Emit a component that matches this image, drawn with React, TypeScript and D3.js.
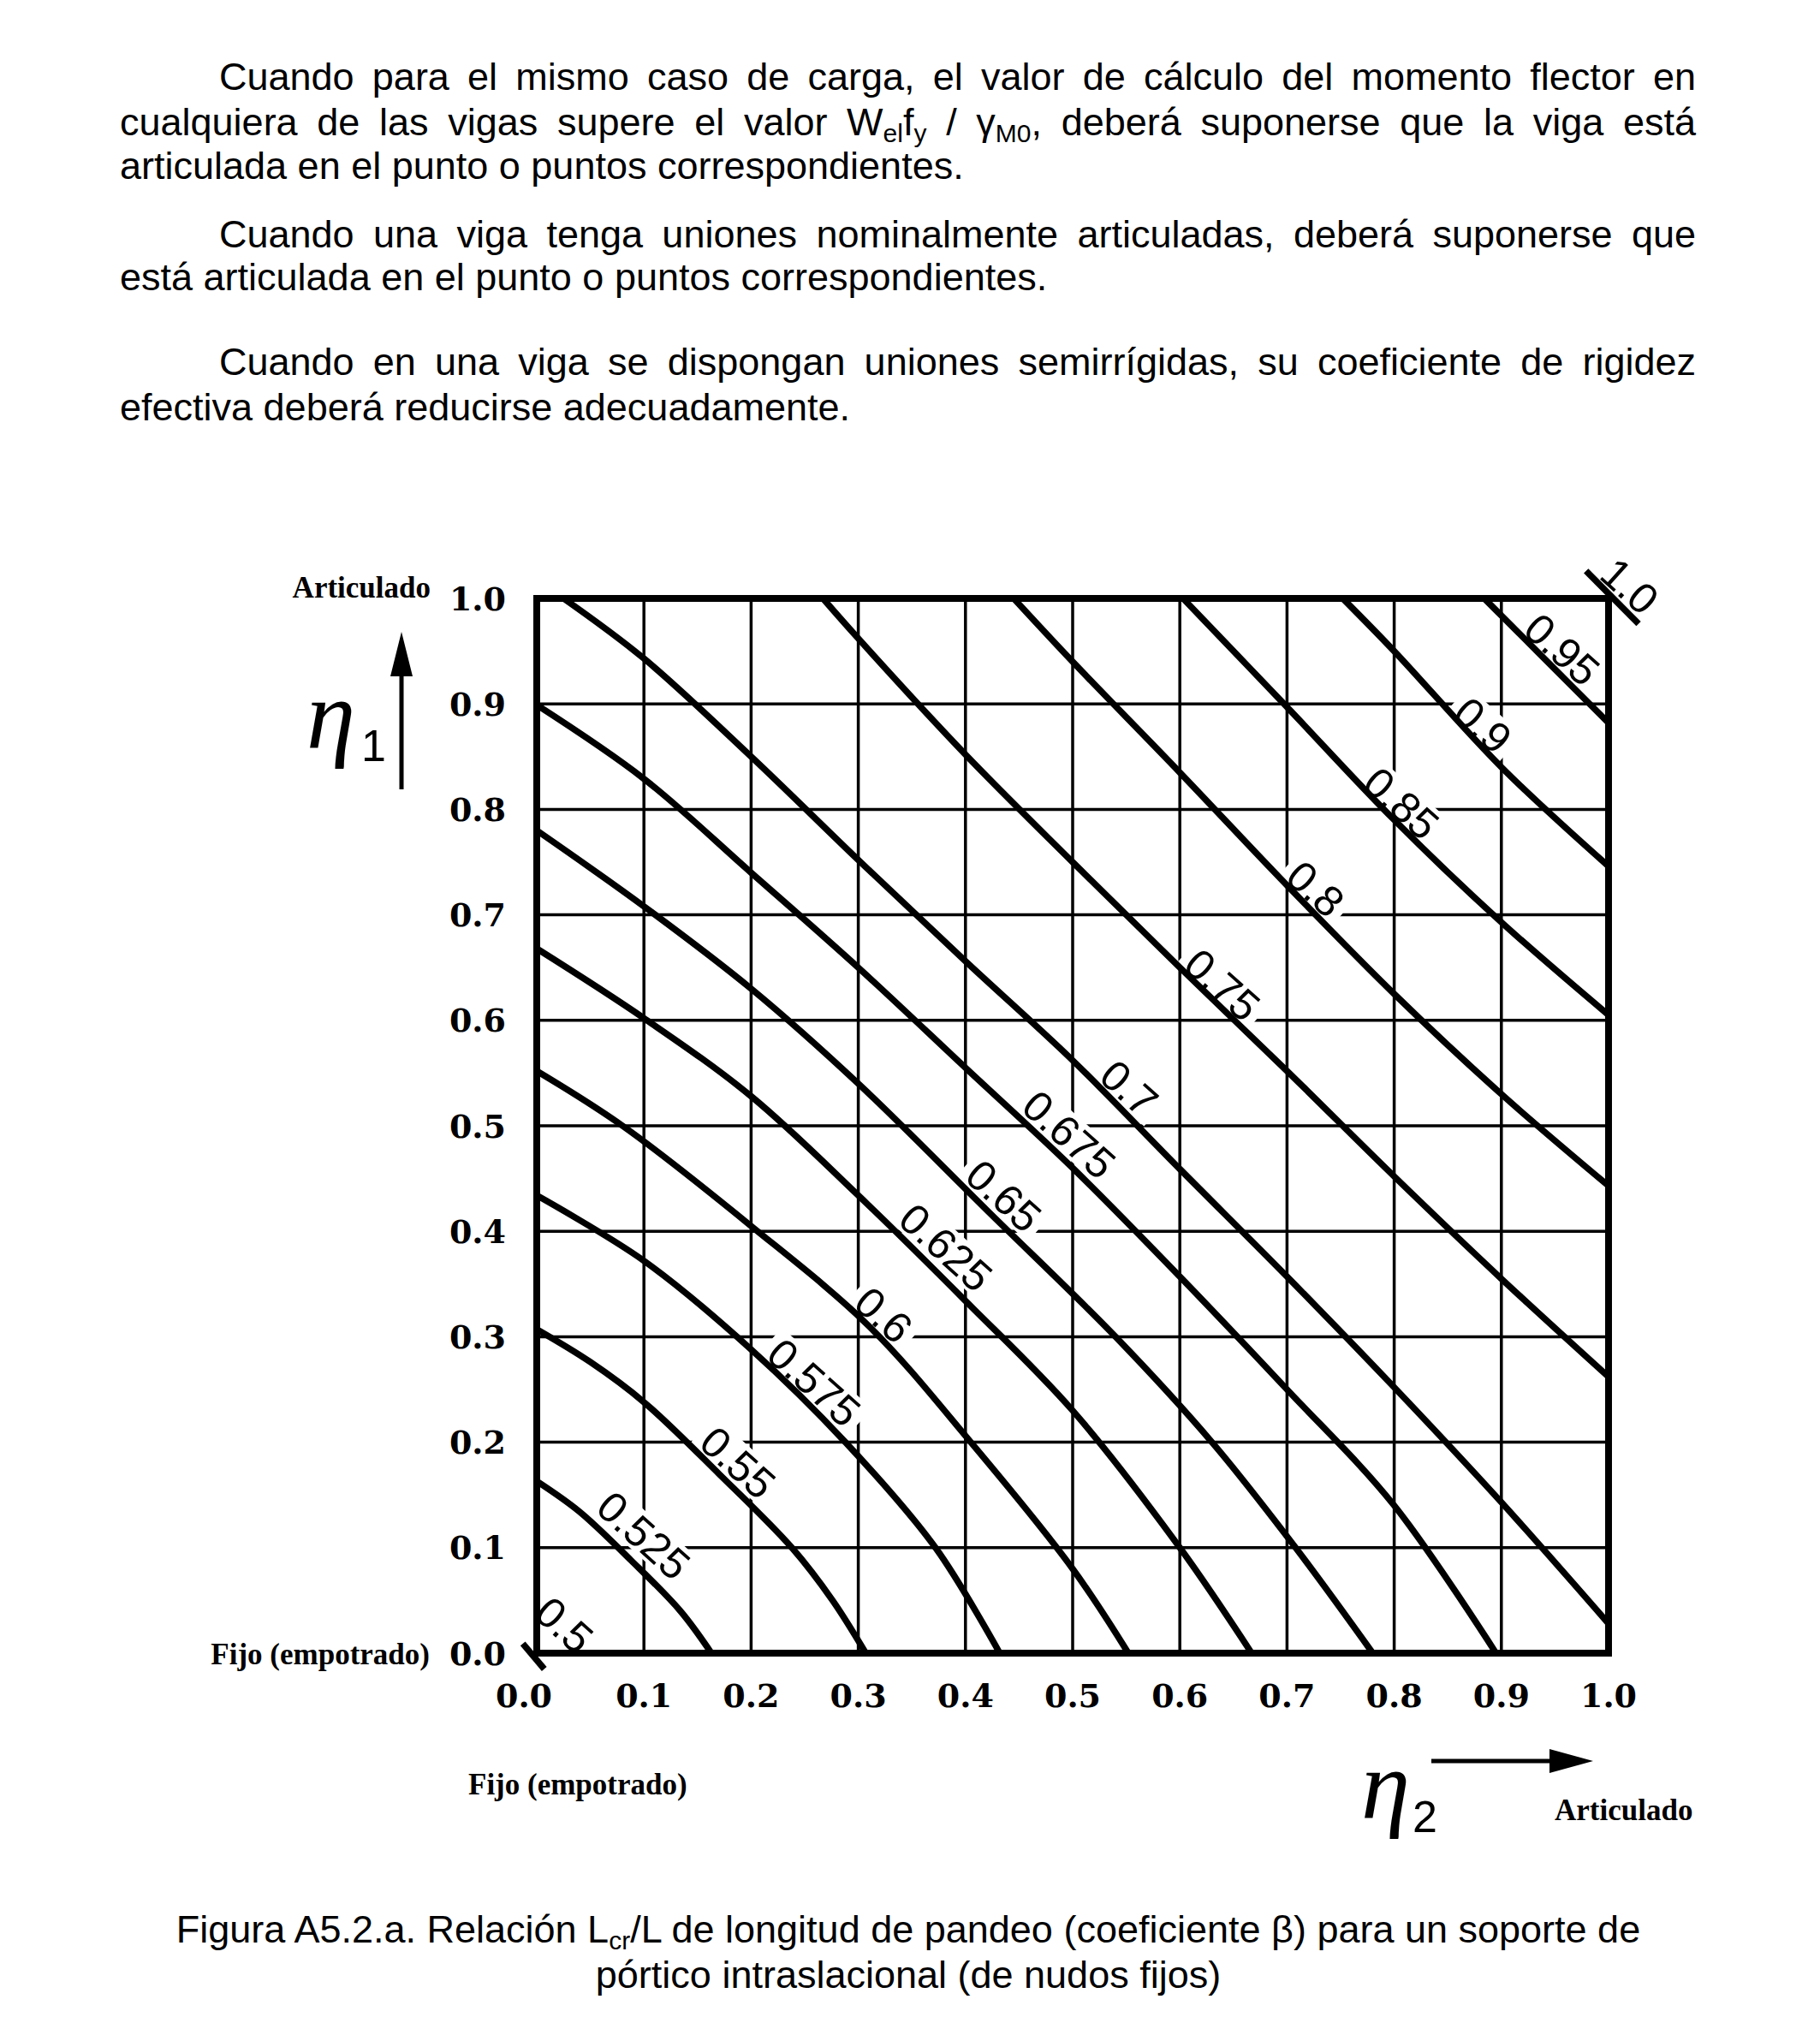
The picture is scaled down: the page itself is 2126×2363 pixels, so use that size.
import React, { useEffect, useRef } from 'react';
import * as d3 from 'd3';

type Pt = [number, number];

// ---------- data (eta2, eta1) ----------
const TICK_VALUES = [0, 0.1, 0.2, 0.3, 0.4, 0.5, 0.6, 0.7, 0.8, 0.9, 1.0];
const TICK_LABELS = ['0.0', '0.1', '0.2', '0.3', '0.4', '0.5', '0.6', '0.7', '0.8', '0.9', '1.0'];

const BETA_0500: Pt[] = [[-0.013, 0.009], [0.007, -0.015]];
const BETA_0525: Pt[] = [[0, 0.163], [0.04, 0.134], [0.088, 0.088], [0.134, 0.04], [0.163, 0]];
const BETA_0550: Pt[] = [[0, 0.307], [0.05, 0.276], [0.1, 0.238], [0.17, 0.17], [0.238, 0.1], [0.276, 0.05], [0.307, 0]];
const BETA_0575: Pt[] = [[0, 0.434], [0.1, 0.372], [0.2, 0.288], [0.288, 0.2], [0.372, 0.1], [0.432, 0]];
const BETA_0600: Pt[] = [[0, 0.552], [0.08, 0.5], [0.2, 0.405], [0.31, 0.31], [0.405, 0.2], [0.5, 0.08], [0.552, 0]];
const BETA_0625: Pt[] = [[0, 0.668], [0.1, 0.602], [0.2, 0.528], [0.3, 0.434], [0.4, 0.334], [0.5, 0.23], [0.6, 0.1], [0.667, 0]];
const BETA_0650: Pt[] = [[0, 0.78], [0.1, 0.708], [0.2, 0.63], [0.3, 0.54], [0.42, 0.42], [0.54, 0.3], [0.63, 0.2], [0.708, 0.1], [0.78, 0]];
const BETA_0675: Pt[] = [[0, 0.899], [0.1, 0.829], [0.2, 0.74], [0.3, 0.65], [0.4, 0.555], [0.5, 0.46], [0.6, 0.357], [0.7, 0.25], [0.8, 0.14], [0.895, 0]];
const BETA_0700: Pt[] = [[0.025, 1], [0.1, 0.943], [0.2, 0.85], [0.3, 0.752], [0.4, 0.656], [0.5, 0.562], [0.6, 0.459], [0.7, 0.357], [0.8, 0.252], [0.9, 0.143], [1, 0.028]];
const BETA_0750: Pt[] = [[0.267, 1], [0.3, 0.962], [0.4, 0.852], [0.5, 0.75], [0.6, 0.65], [0.7, 0.552], [0.8, 0.452], [0.9, 0.355], [1, 0.262]];
const BETA_0800: Pt[] = [[0.445, 1], [0.5, 0.94], [0.6, 0.835], [0.7, 0.728], [0.8, 0.625], [0.9, 0.53], [1, 0.443]];
const BETA_0850: Pt[] = [[0.603, 1], [0.7, 0.897], [0.8, 0.79], [0.9, 0.693], [1, 0.605]];
const BETA_0900: Pt[] = [[0.752, 1], [0.8, 0.95], [0.9, 0.84], [1, 0.746]];
const BETA_0950: Pt[] = [[0.884, 1], [1, 0.882]];
const BETA_1000: Pt[] = [[0.979, 1.026], [1.028, 0.976]];

const CURVES: Pt[][] = [
  BETA_0500, BETA_0525, BETA_0550, BETA_0575, BETA_0600, BETA_0625, BETA_0650,
  BETA_0675, BETA_0700, BETA_0750, BETA_0800, BETA_0850, BETA_0900, BETA_0950, BETA_1000,
];
const CURVE_LABELS = ['0.5', '0.525', '0.55', '0.575', '0.6', '0.625', '0.65', '0.675', '0.7', '0.75', '0.8', '0.85', '0.9', '0.95', '1.0'];
const LABEL_ANCHORS: Pt[] = [
  [0.026, 0.027], [0.1, 0.112], [0.188, 0.181], [0.259, 0.257], [0.324, 0.321],
  [0.382, 0.385], [0.436, 0.434], [0.497, 0.492], [0.553, 0.536], [0.64, 0.634],
  [0.727, 0.725], [0.807, 0.806], [0.883, 0.88], [0.957, 0.952], [1.02, 1.012],
];

// ---------- layout ----------
const W = 2126;
const H = 2363;
const PL = 627, PR = 1879, PT = 699, PB = 1931;
const BODY_FONT = '"Liberation Sans", Arial, sans-serif';
const SERIF_B = '"Liberation Serif", "Times New Roman", serif';
const TICK_FONT = '"DejaVu Serif", serif';
const LABEL_FS = 50;
const BODY_FS = 45;
const SUB_FS = 30;

const charW = (s: string) => s.split('').reduce((a, c) => a + (c === '.' ? 0.278 : 0.556), 0);

export default function App() {
  const svgRef = useRef<SVGSVGElement>(null);

  const x = d3.scaleLinear().domain([0, 1]).range([PL, PR]);
  const y = d3.scaleLinear().domain([0, 1]).range([PB, PT]);
  const line = d3.line<Pt>().x((d) => x(d[0])).y((d) => y(d[1])).curve(d3.curveCatmullRom.alpha(0.5));
  const grid = TICK_VALUES.slice(1, -1);

  useEffect(() => {
    const svg = d3.select(svgRef.current);
    svg.selectAll<SVGTextElement, unknown>('text[data-justify]').each(function () {
      const target = +(this.getAttribute('data-justify') || 0);
      const x0 = +(this.getAttribute('x') || 0);
      const natural = this.getComputedTextLength();
      const spaces = ((this.textContent || '').match(/ /g) || []).length;
      if (spaces > 0) this.style.wordSpacing = `${(target - x0 - natural) / spaces}px`;
    });
  }, []);

  const RIGHT = 1981;
  const IND = 256;
  const LEFT = 140;

  return (
    <svg ref={svgRef} width={W} height={H} style={{ position: 'absolute', left: 0, top: 0, background: '#fff' }}>
      <rect x={0} y={0} width={W} height={H} fill="#fff" />
      {/* body text */}
      <g fontFamily={BODY_FONT} fontSize={BODY_FS} fill="#000">
        <text x={IND} y={105} data-justify={RIGHT}>Cuando para el mismo caso de carga, el valor de cálculo del momento flector en</text>
        <text x={LEFT} y={158} data-justify={RIGHT}>
          {'cualquiera de las vigas supere el valor W'}
          <tspan fontSize={SUB_FS} dy={8}>el</tspan>
          <tspan dy={-8}>f</tspan>
          <tspan fontSize={SUB_FS} dy={8}>y</tspan>
          <tspan dy={-8}>{' / γ'}</tspan>
          <tspan fontSize={SUB_FS} dy={8}>M0</tspan>
          <tspan dy={-8}>{', deberá suponerse que la viga está'}</tspan>
        </text>
        <text x={LEFT} y={209}>articulada en el punto o puntos correspondientes.</text>
        <text x={IND} y={289} data-justify={RIGHT}>Cuando una viga tenga uniones nominalmente articuladas, deberá suponerse que</text>
        <text x={LEFT} y={339}>está articulada en el punto o puntos correspondientes.</text>
        <text x={IND} y={438} data-justify={RIGHT}>Cuando en una viga se dispongan uniones semirrígidas, su coeficiente de rigidez</text>
        <text x={LEFT} y={491}>efectiva deberá reducirse adecuadamente.</text>
      </g>

      {/* grid */}
      <g stroke="#000" strokeWidth={3.5}>
        {grid.map((v) => (
          <line key={'v' + v} x1={x(v)} x2={x(v)} y1={y(0)} y2={y(1)} />
        ))}
        {grid.map((v) => (
          <line key={'h' + v} x1={x(0)} x2={x(1)} y1={y(v)} y2={y(v)} />
        ))}
      </g>

      {/* label backgrounds */}
      <g fill="#fff">
        {CURVE_LABELS.map((lab, i) => {
          const w = charW(lab) * LABEL_FS;
          return (
            <g key={'bg' + lab} transform={`translate(${x(LABEL_ANCHORS[i][0])},${y(LABEL_ANCHORS[i][1])}) rotate(42)`}>
              <rect x={-w / 2 - 8} y={-LABEL_FS * 0.44} width={w + 16} height={LABEL_FS * 0.88} />
            </g>
          );
        })}
      </g>

      {/* curves */}
      <g fill="none" stroke="#000" strokeWidth={7.5}>
        {CURVES.map((c, i) => (
          <path key={'c' + i} d={line(c) || ''} />
        ))}
      </g>

      {/* curve labels */}
      <g fontFamily={BODY_FONT} fontSize={LABEL_FS} fill="#000" textAnchor="middle">
        {CURVE_LABELS.map((lab, i) => (
          <text key={'t' + lab} transform={`translate(${x(LABEL_ANCHORS[i][0])},${y(LABEL_ANCHORS[i][1])}) rotate(42)`} dy="0.36em">
            {lab}
          </text>
        ))}
      </g>

      {/* frame */}
      <rect x={PL} y={PT} width={PR - PL} height={PB - PT} fill="none" stroke="#000" strokeWidth={8} />

      {/* ticks */}
      <g fontFamily={TICK_FONT} fontWeight="bold" fontSize={38} fill="#000">
        {TICK_VALUES.map((v, i) => (
          <text key={'yt' + v} x={591} y={y(v)} dy="0.36em" textAnchor="end">{TICK_LABELS[i]}</text>
        ))}
        {TICK_VALUES.map((v, i) => (
          <text key={'xt' + v} x={x(v) - (i === 0 ? 15 : 0)} y={1994} textAnchor="middle">{TICK_LABELS[i]}</text>
        ))}
      </g>

      {/* axis words */}
      <g fontFamily={SERIF_B} fontWeight="bold" fontSize={35} fill="#000">
        <text x={503} y={698} textAnchor="end">Articulado</text>
        <text x={502} y={1944} textAnchor="end">Fijo (empotrado)</text>
        <text x={547} y={2096}>Fijo (empotrado)</text>
        <text x={1816} y={2126}>Articulado</text>
      </g>

      {/* eta symbols and arrows */}
      <g fill="#000">
        <text x={358} y={874} fontFamily={SERIF_B} fontStyle="italic" fontSize={115}>η</text>
        <text x={422} y={889} fontFamily={BODY_FONT} fontSize={52}>1</text>
        <line x1={469} x2={469} y1={922} y2={780} stroke="#000" strokeWidth={5} />
        <polygon points="469,738 456,790 482,790" />
        <text x={1590} y={2124} fontFamily={SERIF_B} fontStyle="italic" fontSize={115}>η</text>
        <text x={1650} y={2140} fontFamily={BODY_FONT} fontSize={52}>2</text>
        <line x1={1672} x2={1815} y1={2057} y2={2057} stroke="#000" strokeWidth={5} />
        <polygon points="1861,2057 1810,2043 1810,2071" />
      </g>

      {/* caption */}
      <g fontFamily={BODY_FONT} fontSize={BODY_FS} fill="#000" textAnchor="middle">
        <text x={1061} y={2269}>
          {'Figura A5.2.a. Relación L'}
          <tspan fontSize={SUB_FS} dy={8}>cr</tspan>
          <tspan dy={-8}>{'/L de longitud de pandeo (coeficiente β) para un soporte de'}</tspan>
        </text>
        <text x={1061} y={2322}>pórtico intraslacional (de nudos fijos)</text>
      </g>
    </svg>
  );
}
